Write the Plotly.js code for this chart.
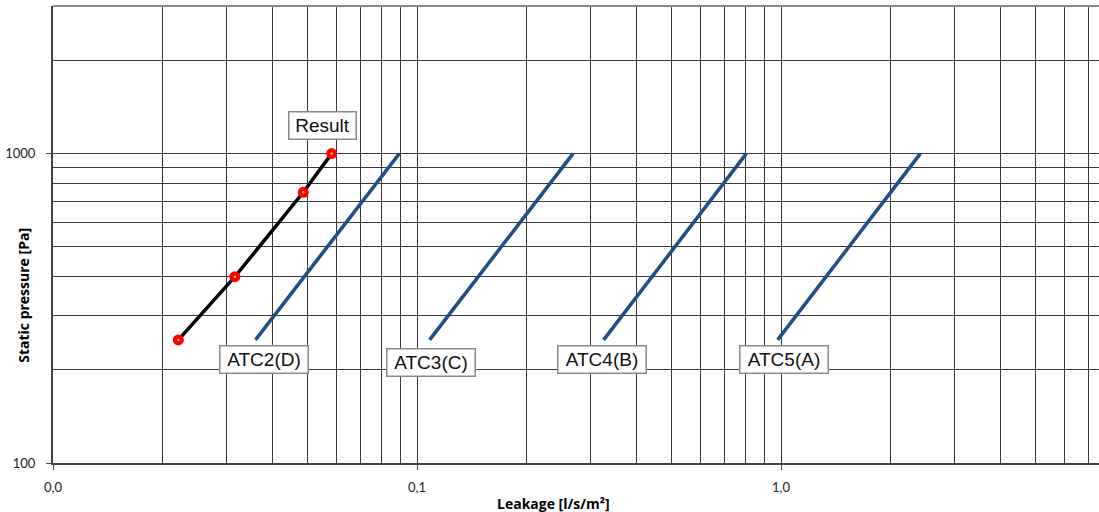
<!DOCTYPE html>
<html>
<head>
<meta charset="utf-8">
<script src="https://cdn.plot.ly/plotly-3.0.1.min.js"></script>
<style>html,body{margin:0;padding:0;background:#fff;}#chart{width:1099px;height:512px;}</style>
</head>
<body>
<div id="chart"></div>
<script>
// Data
const resultLeakage = [0.0221, 0.0316, 0.0487, 0.0583];
const resultPressure = [250, 400, 750, 1000];

const atcNames = ["ATC2(D)", "ATC3(C)", "ATC4(B)", "ATC5(A)"];
const atcLeakageLow = [0.0360, 0.1083, 0.3256, 0.979];
const atcLeakageHigh = [0.0894, 0.2683, 0.803, 2.414];
const atcPressure = [250, 1000];

const xMajorTicks = [0.01, 0.1, 1];
const xMajorText = ["0,0", "0,1", "1,0"];
const xMinorTicks = [0.02,0.03,0.04,0.05,0.06,0.07,0.08,0.09,0.2,0.3,0.4,0.5,0.6,0.7,0.8,0.9,2,3,4,5,6,7];
const yMajorTicks = [100, 1000];
const yMajorText = ["100", "1000"];
const yMinorTicks = [200,300,400,500,600,700,800,900,2000];

const blue = "#1F4E85";
const traces = [];
atcNames.forEach((name, i) => {
  traces.push({
    x: [atcLeakageLow[i], atcLeakageHigh[i]],
    y: atcPressure,
    mode: "lines",
    name: name,
    line: {color: blue, width: 3.5},
    hoverinfo: "skip"
  });
});
traces.push({
  x: resultLeakage, y: resultPressure,
  mode: "lines+markers", name: "Result",
  line: {color: "#000", width: 3.5},
  marker: {color: "#FF0000", size: 11, line: {width: 0}}
});
traces.push({
  x: resultLeakage, y: resultPressure,
  mode: "markers", name: "Result centre", showlegend: false,
  marker: {color: "#FFD000", size: 2.5}, hoverinfo: "skip"
});

const gridColor = "#3a3a3a";
const tickFont = {family: "Lato, 'Open Sans', sans-serif", size: 13, color: "#222"};
const labelFont = {family: "'Liberation Sans', Arial, sans-serif", size: 19, color: "#111"};
const titleFont = {family: "'Open Sans', Lato, sans-serif", size: 14, color: "#000", weight: 700};

function lab(text, xv, yv, w) {
  return {
    text: text, x: xv, y: yv, xref: "x", yref: "y",
    showarrow: false, font: labelFont,
    bgcolor: "#fff", bordercolor: "#8a8a8a", borderwidth: 1.5, borderpad: 1,
    width: w, height: 24, align: "center", valign: "middle"
  };
}

const layout = {
  width: 1099, height: 512,
  margin: {l: 53, r: 0, t: 6, b: 49},
  paper_bgcolor: "#fff", plot_bgcolor: "#fff",
  showlegend: false,
  xaxis: {
    type: "log", range: [-2, 0.8736],
    tickvals: xMajorTicks, ticktext: xMajorText,
    ticks: "outside", ticklen: 5, tickcolor: "#444", tickwidth: 1,
    tickfont: tickFont, ticklabelstandoff: 6,
    showgrid: true, gridcolor: gridColor, gridwidth: 1,
    minor: {tickvals: xMinorTicks, showgrid: true, gridcolor: gridColor, gridwidth: 1, ticks: ""},
    showline: true, linecolor: "#444", linewidth: 2, mirror: false,
    zeroline: false
  },
  yaxis: {
    type: "log", range: [2, Math.log10(3000)],
    tickvals: yMajorTicks, ticktext: yMajorText,
    ticks: "outside", ticklen: 5, tickcolor: "#444", tickwidth: 1,
    tickfont: tickFont, ticklabelstandoff: 8,
    showgrid: true, gridcolor: gridColor, gridwidth: 1,
    minor: {tickvals: yMinorTicks, showgrid: true, gridcolor: gridColor, gridwidth: 1, ticks: ""},
    showline: true, linecolor: "#444", linewidth: 2, mirror: false,
    zeroline: false
  },
  shapes: [
    {type: "line", xref: "paper", yref: "paper", x0: 0, x1: 1, y0: 1, y1: 1,
     line: {color: "#8a8a8a", width: 2}}
  ],
  annotations: [
    lab("Result", -1.260, 3.091, 64),
    lab(atcNames[0], -1.421, 2.336, 85),
    lab(atcNames[1], -0.961, 2.326, 85),
    lab(atcNames[2], -0.491, 2.334, 85),
    lab(atcNames[3], 0.009, 2.334, 85),
    {text: "Leakage [l/s/m²]", xref: "paper", yref: "paper",
     x: (553 - 53) / 1046, y: -(503 - 462.7) / 457, showarrow: false,
     font: titleFont, xanchor: "center", yanchor: "middle"},
    {text: "Static pressure [Pa]", xref: "paper", yref: "paper",
     x: -(53 - 23.5) / 1046, y: (462.7 - 295) / 457, showarrow: false, textangle: -90,
     font: titleFont, xanchor: "center", yanchor: "middle"}
  ]
};

Plotly.newPlot("chart", traces, layout, {displayModeBar: false, staticPlot: true});
</script>
</body>
</html>
